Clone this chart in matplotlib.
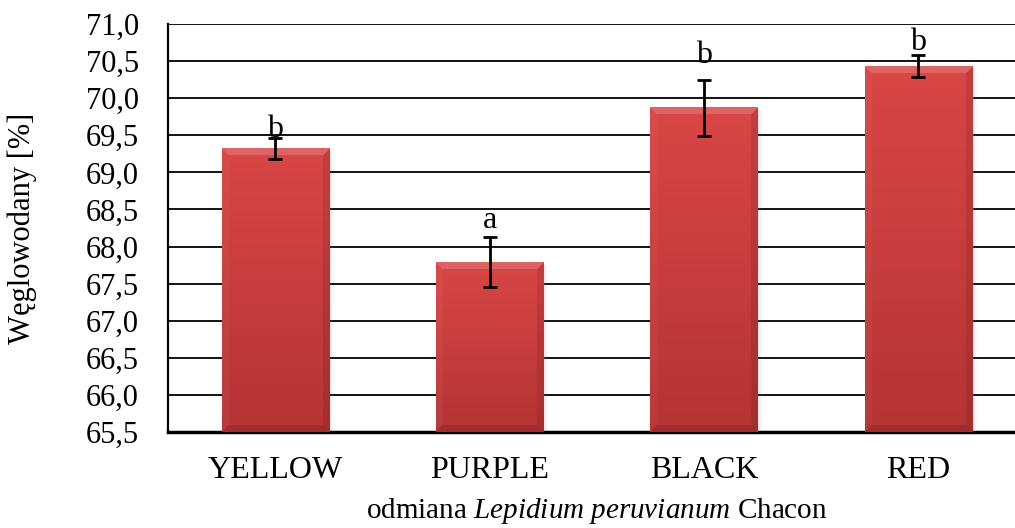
import numpy as np
import matplotlib.pyplot as plt
from matplotlib.colors import to_rgb

# carbohydrate content of maca varieties
varieties = ['YELLOW', 'PURPLE', 'BLACK', 'RED']
carbs = [69.32, 67.79, 69.87, 70.43]
carbs_sd = [0.14, 0.34, 0.38, 0.15]
groups = ['b', 'a', 'b', 'b']
group_label_y = [69.48, 68.25, 70.47, 70.65]

plt.rcParams['font.family'] = ['Liberation Serif', 'DejaVu Serif']
plt.rcParams['mathtext.fontset'] = 'custom'
plt.rcParams['mathtext.rm'] = 'Liberation Serif'
plt.rcParams['mathtext.it'] = 'Liberation Serif:italic'

fig = plt.figure(figsize=(10.15, 5.28), dpi=100)
ax = fig.add_axes([0.1655, 0.1818, 0.845, 0.7727])

ymin, ymax = 65.5, 71.0
bar_w = 0.5
x = np.arange(len(varieties))


def bevel_image(h_px, w_px, bevel=7):
    """RGB array for one bar: vertical gradient with a mitered bevel frame."""
    top = np.array(to_rgb('#d94646'))
    bot = np.array(to_rgb('#b53434'))
    t = np.linspace(0, 1, h_px)[:, None, None]
    img = top * (1 - t) + bot * t
    img = np.repeat(img, w_px, axis=1)
    rr, cc = np.mgrid[0:h_px, 0:w_px]
    d_top, d_bot = rr, h_px - 1 - rr
    d_left, d_right = cc, w_px - 1 - cc
    d = np.stack([d_top, d_bot, d_left, d_right])
    side = d.argmin(axis=0)
    inside = d.min(axis=0) < bevel
    shade = np.zeros((h_px, w_px))
    shade[(side == 0) & inside] = 0.16
    shade[(side == 1) & inside] = -0.12
    shade[(side == 2) & inside] = 0.03
    shade[(side == 3) & inside] = -0.10
    out = np.where(shade[..., None] > 0,
                   img + (1 - img) * shade[..., None],
                   img * (1 + shade[..., None]))
    return np.clip(out, 0, 1)


px_per_unit = 0.7727 * 528 / (ymax - ymin)
bar_px = int(0.845 * 1015 / 4.0 * bar_w)

for xi, val in zip(x, carbs):
    # soft shadow to the right of each bar
    for k, a in enumerate([0.10, 0.07, 0.04]):
        off = (k + 1) * 0.008
        ax.add_patch(plt.Rectangle((xi - bar_w / 2 + off, ymin), bar_w, val - ymin - off * 2,
                                   facecolor='#808080', edgecolor='none', alpha=a, zorder=2))
    h_px = max(int((val - ymin) * px_per_unit), 10)
    ax.imshow(bevel_image(h_px, bar_px), extent=(xi - bar_w / 2, xi + bar_w / 2, ymin, val),
              aspect='auto', interpolation='bilinear', zorder=3)

ax.errorbar(x, carbs, yerr=carbs_sd, fmt='none', ecolor='black', elinewidth=2,
            capsize=5, capthick=2, zorder=4)

for xi, g, gy in zip(x, groups, group_label_y):
    ax.text(xi, gy, g, ha='center', va='baseline', fontsize=23, zorder=5)

ax.set_xlim(-0.5, len(varieties) - 0.5)
ax.set_ylim(ymin, ymax)
yt = np.arange(65.5, 71.01, 0.5)
ax.set_yticks(yt)
ax.set_yticklabels([f'{v:.1f}'.replace('.', ',') for v in yt])
ax.set_xticks(x)
ax.set_xticklabels(varieties)
ax.tick_params(axis='both', length=0)
ax.tick_params(axis='x', pad=17, labelsize=23)
ax.tick_params(axis='y', pad=21, labelsize=22)

ax.grid(axis='y', color='black', linewidth=1.3, zorder=1)
ax.set_axisbelow(True)
for s in ['top', 'right']:
    ax.spines[s].set_visible(False)
ax.spines['left'].set_linewidth(1.6)
ax.spines['bottom'].set_linewidth(2.5)

ax.set_ylabel('Węglowodany [%]', fontsize=22, labelpad=35)
ax.set_xlabel(r'odmiana $\mathit{Lepidium\ peruvianum}$ Chacon', fontsize=21, labelpad=8)

fig.savefig('out.png', dpi=100)
